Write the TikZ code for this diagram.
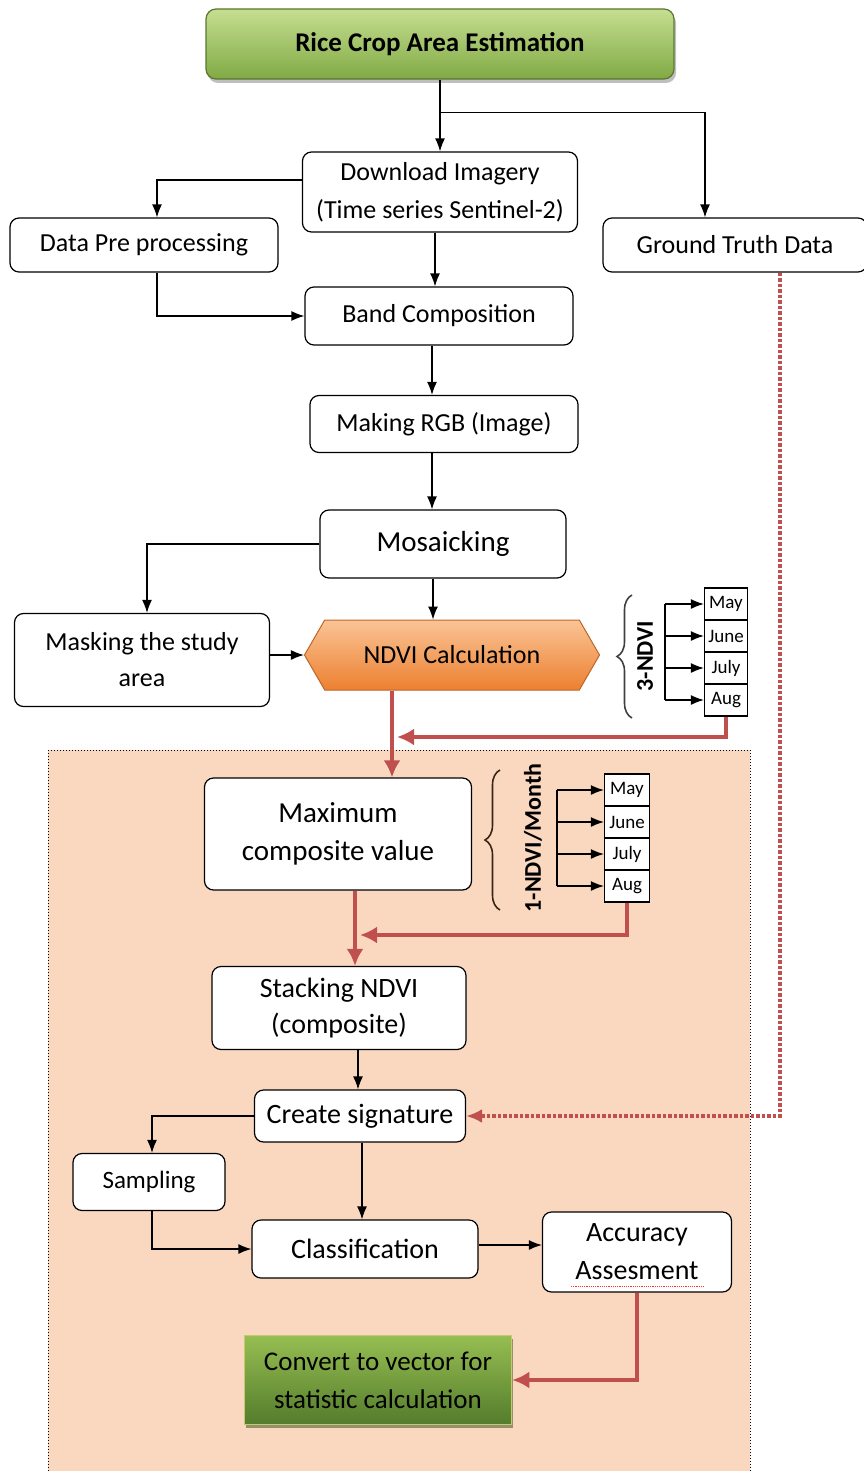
\documentclass[tikz,border=0pt]{standalone}
\usepackage{fontspec}
\setmainfont{Carlito}
\usepackage{tikz}
\usetikzlibrary{arrows,arrows.meta,decorations.pathreplacing,positioning,shapes.symbols,shadows}

\definecolor{ttop}{RGB}{198,222,145}
\definecolor{tbot}{RGB}{128,170,68}
\definecolor{otop}{RGB}{250,196,150}
\definecolor{obot}{RGB}{236,128,48}
\definecolor{peach}{RGB}{250,216,192}
\definecolor{redline}{RGB}{192,80,77}
\definecolor{ctop}{RGB}{150,190,82}
\definecolor{cbot}{RGB}{84,124,44}
\definecolor{cedge}{RGB}{200,200,110}

\tikzset{
  box/.style={draw, rounded corners=9pt, fill=white, align=center, line width=1.2pt,
    inner sep=0pt, font=\fontsize{26}{32}\selectfont},
  mon/.style={draw, fill=white, line width=1.2pt, inner sep=0pt, minimum height=32pt,
    font=\fontsize{19}{22}\selectfont},
  arr/.style={-{Latex[length=13pt, width=10pt]}, line width=1.3pt},
  redarr/.style={-{Latex[length=17pt, width=17pt]}, line width=4.5pt, draw=redline, line join=miter},
  brc/.style={decorate, decoration={brace, amplitude=15pt}, line width=1.6pt}
}

\begin{document}
\begin{tikzpicture}[x=1pt, y=-1pt]
\useasboundingbox (0,0) rectangle (863,1471);

% shaded area of the lower part
\draw[fill=peach, dotted, line width=1pt] (48,750) rectangle (750,1490);

\node[box, rounded corners=10pt, top color=ttop, bottom color=tbot, draw=tbot!70!black,
  drop shadow={shadow xshift=2pt, shadow yshift=-4pt}, minimum width=468pt, minimum height=70pt,
  font=\fontsize{27}{32}\selectfont\bfseries] (title) at (440,44) {Rice Crop Area Estimation};

\node[box, minimum width=275pt, minimum height=80pt, font=\fontsize{26}{38}\selectfont] (dl) at (440,192) {Download Imagery\\(Time series Sentinel-2)};
\node[box, minimum width=268pt, minimum height=54pt] (pre) at (144,245) {Data Pre processing};
\node[box, minimum width=264pt, minimum height=54pt] (gt) at (735,245) {Ground Truth Data};
\node[box, minimum width=268pt, minimum height=58pt] (band) at (439,316) {Band Composition};
\node[box, minimum width=268pt, minimum height=57pt] (rgb) at (444,424) {Making RGB (Image)};
\node[box, minimum width=246pt, minimum height=68pt, font=\fontsize{29}{34}\selectfont] (mos) at (443,544) {Mosaicking};
\node[box, minimum width=255pt, minimum height=93pt, font=\fontsize{26}{36}\selectfont] (mask) at (142,660) {Masking the study\\area};
\node[draw=obot!80!black, line width=1pt, top color=otop, bottom color=obot, signal, signal to=west and east,
  signal pointer angle=120, minimum width=295pt, minimum height=70pt, inner sep=0pt,
  font=\fontsize{26}{32}\selectfont] (ndvi) at (452,655) {NDVI Calculation};

\node[box, minimum width=267pt, minimum height=112pt, font=\fontsize{29}{38}\selectfont] (max) at (338,834) {Maximum\\composite value};
\node[box, minimum width=254pt, minimum height=83pt, font=\fontsize{28}{36}\selectfont] (stack) at (339,1008) {Stacking NDVI\\(composite)};
\node[box, minimum width=211pt, minimum height=52pt, font=\fontsize{28}{32}\selectfont] (sig) at (360,1116) {Create signature};
\node[box, minimum width=152pt, minimum height=57pt, font=\fontsize{25}{30}\selectfont] (samp) at (149,1182) {Sampling};
\node[box, minimum width=226pt, minimum height=58pt, font=\fontsize{28}{32}\selectfont] (cls) at (365,1249) {Classification};
\node[box, minimum width=189pt, minimum height=80pt, font=\fontsize{28}{38}\selectfont] (acc) at (637,1252) {Accuracy\\Assesment};
\node[draw=cedge, line width=1.5pt, top color=ctop, bottom color=cbot, align=center, inner sep=0pt,
  drop shadow={shadow xshift=1pt, shadow yshift=-3pt, fill=cbot!60!black},
  minimum width=267pt, minimum height=89pt, font=\fontsize{27}{38}\selectfont] (conv) at (378,1380) {Convert to vector for\\statistic calculation};

% spell check mark
\draw[red!80, densely dotted, line width=1.2pt] ([xshift=-66pt, yshift=6pt]acc.south) -- ([xshift=68pt, yshift=6pt]acc.south);

% months of the 3-NDVI
\coordinate (busA) at (665,0);
\foreach \m [count=\i] in {May,June,July,Aug}
{
  \node[mon, minimum width=43pt] (a\i) at (726,{572+32*\i}) {\m};
  \draw[arr] (a\i.west -| busA) -- (a\i.west);
}
\draw[line width=1.3pt] (a1.west -| busA) -- (a4.west -| busA);
\draw[brc, draw=black!75] (632,718) -- (632,595);
\node[rotate=90, font=\fontsize{24}{28}\selectfont\bfseries] (lblA) at (645,656) {3-NDVI};

% months of the 1-NDVI/Month
\coordinate (busB) at (557,0);
\foreach \m [count=\i] in {May,June,July,Aug}
{
  \node[mon, minimum width=45pt] (b\i) at (627,{758+32*\i}) {\m};
  \draw[arr] (b\i.west -| busB) -- (b\i.west);
}
\draw[line width=1.3pt] (b1.west -| busB) -- (b4.west -| busB);
\draw[brc, draw=black!70!brown] (500,910) -- (500,770);
\node[rotate=90, font=\fontsize{24}{28}\selectfont\bfseries] (lblB) at (533,838) {1-NDVI/Month};

% black connectors
\draw[arr] (title) -- (dl);
\draw[arr] ([yshift=-33pt]title.south) -| ([xshift=-30pt]gt.north);
\draw[arr] ([yshift=12pt]dl.west) -| ([xshift=13pt]pre.north);
\draw[arr] ([xshift=-5pt]dl.south) -- ([xshift=-4pt]band.north);
\draw[arr] ([xshift=13pt]pre.south) |- (band.west);
\draw[arr] ([xshift=-7pt]band.south) -- ([xshift=-12pt]rgb.north);
\draw[arr] ([xshift=-12pt]rgb.south) -- ([xshift=-11pt]mos.north);
\draw[arr] (mos.west) -| ([xshift=5pt]mask.north);
\draw[arr] ([xshift=-10pt]mos.south) -- ([xshift=-19pt]ndvi.north);
\draw[arr] (mask.east |- ndvi.west) -- (ndvi.west);
\draw[arr] ([xshift=19pt]stack.south) -- ([xshift=-2pt]sig.north);
\draw[arr] (sig.west) -| ([xshift=3pt]samp.north);
\draw[arr] ([xshift=2pt]sig.south) -- ([xshift=-3pt]cls.north);
\draw[arr] ([xshift=3pt]samp.south) |- (cls.west);
\draw[arr] ([yshift=4pt]cls.east) -- ([yshift=4pt]cls.east -| acc.west);

% red connectors
\coordinate (jA) at (397,737);
\coordinate (jB) at (360,935);
\draw[redarr] ([xshift=-60pt]ndvi.south) -- ([xshift=54pt]max.north);
\draw[redarr] (a4.south) |- (jA);
\draw[redarr] ([xshift=17pt]max.south) -- ([xshift=16pt]stack.north);
\draw[redarr] (b4.south) |- (jB);
\draw[redarr] (acc.south) |- (conv.east);
\draw[-{Latex[length=16pt, width=14pt]}, draw=redline, line width=3.5pt, dotted] ([xshift=45pt]gt.south) |- (sig.east);

\end{tikzpicture}
\end{document}
